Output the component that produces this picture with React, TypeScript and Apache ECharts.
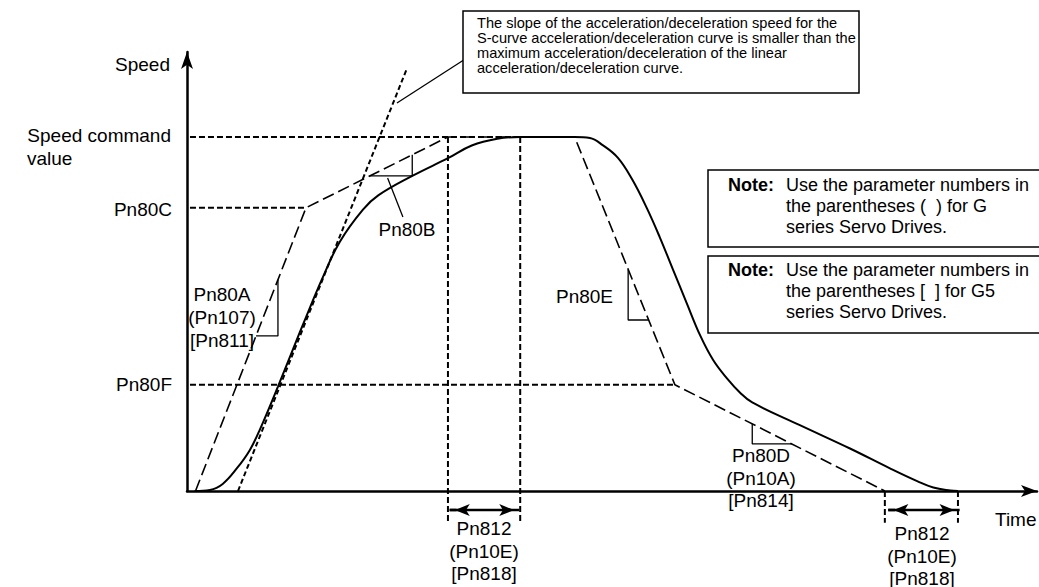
import React, { useEffect, useRef } from 'react';
import * as echarts from 'echarts';

const FONT = '"Liberation Sans", Arial, Helvetica, sans-serif';

// Linear acceleration/deceleration profile (dashed): time units, speed in % of command
const linearTime = [1, 14, 30.7, 45.6, 57.4, 82.1];
const linearSpeed = [0, 80, 100, 100, 30, 0];

// S-curve acceleration/deceleration profile (solid)
const sCurveTime = [0.9, 2.7, 4.2, 5.9, 7.4, 8.6, 10.7, 13.3, 14.5, 16.0, 18.0, 20.7, 22.5, 26.5, 30.7, 33.5, 36.5, 39.2, 45.6, 47.4, 48.9, 50.7, 52.4, 54.1, 55.6, 57.2, 58.8, 60.4, 61.9, 63.5, 65.1, 66.5, 72.1, 78.0, 82.7, 85.9, 87.8, 89.8, 90.7];
const sCurveSpeed = [0, 0.3, 2, 6.5, 11.6, 17.5, 29.5, 45, 52, 60.5, 70.5, 79.5, 83.5, 89, 94, 97.6, 99.5, 100, 100, 99.7, 97.7, 94.1, 87.9, 79.9, 71.8, 62.4, 53.0, 43.8, 37.0, 31.9, 27.7, 25.0, 18.6, 12.0, 6.4, 2.8, 1.0, 0.15, 0];

// Maximum slope of the linear curve (dotted)
const tangentTime = [6, 25.8];
const tangentSpeed = [0, 118.9];

// Reference levels
const levelNames = ['Speed command', 'Pn80C', 'Pn80F'];
const levelSpeed = [100, 80, 30];
const levelEndTime = [39.2, 14, 57.4];

// Pn812 time-constant markers
const pn812Start = [30.7, 82.1];
const pn812End = [39.2, 90.7];
const pn812Top = [100, 0];
const arrowStart = [30.9, 82.5];
const arrowEnd = [39.1, 90.9];
const arrowSpeed = -5.4;

// Slope brackets (time, speed)
const bracketA = [[10.7, 59.7], [10.7, 43.8], [8.12, 43.8]];
const bracketB = [[21.5, 89], [26.5, 89], [26.5, 95]];
const bracketE = [[51.9, 62.6], [51.9, 48.3], [54.3, 48.3]];
const bracketD = [[66.5, 18.9], [66.5, 13.3], [71.15, 13.3]];
const leaderB = [[23.6, 88.4], [25.4, 77.4]];
const leaderNote = [[32.6, 121.8], [24.7, 109.6]];

const zip = (t: number[], v: number[]) => t.map((x, i) => [x, v[i]]);

const txt = (x: number, y: number, text: string, align: string, extra: any = {}) => ({
  type: 'text',
  x,
  y,
  z: 10,
  style: {
    text,
    fill: '#000',
    font: `${extra.weight || 'normal'} ${extra.size || 19}px ${FONT}`,
    align,
    verticalAlign: extra.va || 'middle',
    textAlign: align,
    textVerticalAlign: extra.va || 'middle',
    lineHeight: extra.lh,
  },
});

export default function App() {
  const ref = useRef<HTMLDivElement>(null);
  useEffect(() => {
    if (!ref.current) return;
    const chart = echarts.init(ref.current, null, { renderer: 'svg' });
    const black = '#000';
    const refDash = { color: black, width: 2, type: [6, 3] as any };
    const plain = { color: black, width: 1.3, type: 'solid' as any };
    const simple = (data: any, lineStyle: any, extra: any = {}) => ({
      type: 'line',
      data,
      symbol: 'none',
      silent: true,
      clip: false,
      lineStyle,
      ...extra,
    });
    const series: any[] = [];
    levelSpeed.forEach((v, i) => {
      series.push(simple([[0.35, v], [levelEndTime[i], v]], refDash, { name: levelNames[i] }));
    });
    pn812Start.forEach((t, i) => {
      series.push(simple([[t, pn812Top[i]], [t, -9]], refDash));
      series.push(simple([[pn812End[i], pn812Top[i]], [pn812End[i], -9]], refDash));
    });
    series.push(simple(zip(tangentTime, tangentSpeed), { color: black, width: 2, type: [5, 3] }));
    series.push(simple(zip(linearTime, linearSpeed), { color: black, width: 1.6, type: [12, 5] }));
    series.push(
      simple(zip(sCurveTime, sCurveSpeed), { color: black, width: 2, type: 'solid' }, {
        smooth: 0.4,
      })
    );
    [bracketA, bracketB, bracketE, bracketD, leaderB, leaderNote].forEach((b) => series.push(simple(b, plain)));
    // double-headed arrows for Pn812
    arrowStart.forEach((t, i) => {
      series.push({
        type: 'line',
        silent: true,
        clip: false,
        showAllSymbol: true,
        symbolSize: [9, 15],
        itemStyle: { color: black, opacity: 1 },
        lineStyle: { color: black, width: 2.5, type: 'solid' },
        data: [
          { value: [t + 0.8, arrowSpeed], symbol: 'none' },
          { value: [t + 0.6, arrowSpeed], symbol: 'arrow', symbolRotate: 90 },
          { value: [t, arrowSpeed], symbol: 'none' },
        ],
      });
      series.push({
        type: 'line',
        silent: true,
        clip: false,
        showAllSymbol: true,
        symbolSize: [9, 15],
        itemStyle: { color: black, opacity: 1 },
        lineStyle: { color: black, width: 2.5, type: 'solid' },
        data: [
          { value: [t, arrowSpeed], symbol: 'none' },
          { value: [arrowEnd[i] - 0.6, arrowSpeed], symbol: 'arrow', symbolRotate: -90 },
          { value: [arrowEnd[i], arrowSpeed], symbol: 'none' },
        ],
      });
    });

    const graphic: any[] = [
      txt(170, 64, 'Speed', 'right'),
      txt(171, 135, 'Speed command', 'right'),
      txt(27, 158, 'value', 'left'),
      txt(172, 209, 'Pn80C', 'right'),
      txt(172, 384, 'Pn80F', 'right'),
      txt(407, 229, 'Pn80B', 'center'),
      txt(222, 294, 'Pn80A', 'center'),
      txt(222, 317, '(Pn107)', 'center'),
      txt(222, 340, '[Pn811]', 'center'),
      txt(613, 296, 'Pn80E', 'right'),
      txt(761, 455, 'Pn80D', 'center'),
      txt(761, 478, '(Pn10A)', 'center'),
      txt(761, 500, '[Pn814]', 'center'),
      txt(484, 528, 'Pn812', 'center'),
      txt(484, 551, '(Pn10E)', 'center'),
      txt(484, 573, '[Pn818]', 'center'),
      txt(922, 533, 'Pn812', 'center'),
      txt(922, 556, '(Pn10E)', 'center'),
      txt(922, 578, '[Pn818]', 'center'),
      txt(995, 519, 'Time', 'left'),
      {
        type: 'rect',
        z: 5,
        shape: { x: 463, y: 11, width: 396, height: 82 },
        style: { fill: '#fff', stroke: black, lineWidth: 1.5 },
      },
      txt(
        477,
        15,
        'The slope of the acceleration/deceleration speed for the\nS-curve acceleration/deceleration curve is smaller than the\nmaximum acceleration/deceleration of the linear\nacceleration/deceleration curve.',
        'left',
        { size: 14.6, lh: 15, va: 'top' }
      ),
      {
        type: 'rect',
        z: 5,
        shape: { x: 708, y: 170, width: 340, height: 77 },
        style: { fill: '#fff', stroke: black, lineWidth: 1.5 },
      },
      {
        type: 'rect',
        z: 5,
        shape: { x: 708, y: 256, width: 340, height: 77 },
        style: { fill: '#fff', stroke: black, lineWidth: 1.5 },
      },
      txt(728, 185, 'Note:', 'left', { size: 18, weight: 'bold' }),
      txt(786, 185, 'Use the parameter numbers in', 'left', { size: 18 }),
      txt(786, 206, 'the parentheses (  ) for G', 'left', { size: 18 }),
      txt(786, 227, 'series Servo Drives.', 'left', { size: 18 }),
      txt(728, 270, 'Note:', 'left', { size: 18, weight: 'bold' }),
      txt(786, 270, 'Use the parameter numbers in', 'left', { size: 18 }),
      txt(786, 291, 'the parentheses [  ] for G5', 'left', { size: 18 }),
      txt(786, 312, 'series Servo Drives.', 'left', { size: 18 }),
    ];

    chart.setOption({
      animation: false,
      grid: { left: 187, top: 52, width: 850, height: 439, containLabel: false },
      xAxis: {
        type: 'value',
        min: 0,
        max: 100,
        axisLine: { show: true, onZero: true, symbol: ['none', 'arrow'], symbolSize: [9, 16], lineStyle: { color: black, width: 2.5 } },
        axisTick: { show: false },
        axisLabel: { show: false },
        splitLine: { show: false },
      },
      yAxis: {
        type: 'value',
        min: 0,
        max: 124,
        axisLine: { show: true, onZero: true, symbol: ['none', 'arrow'], symbolSize: [9, 17], lineStyle: { color: black, width: 2.5 } },
        axisTick: { show: false },
        axisLabel: { show: false },
        splitLine: { show: false },
      },
      series,
      graphic,
    });
    return () => chart.dispose();
  }, []);
  return <div ref={ref} style={{ position: 'fixed', left: 0, top: 0, width: 1039, height: 587, background: '#fff' }} />;
}
